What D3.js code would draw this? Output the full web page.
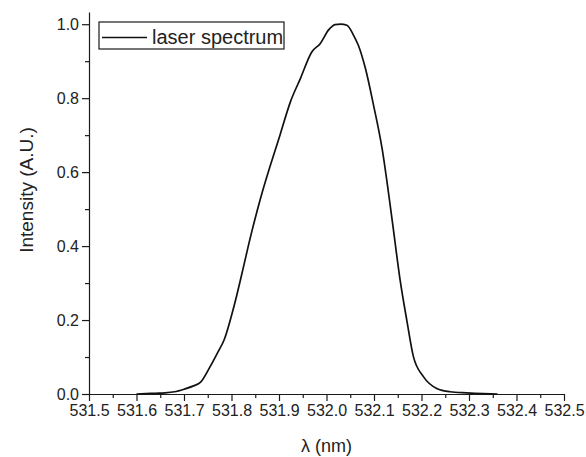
<!DOCTYPE html>
<html>
<head>
<meta charset="utf-8">
<script src="https://cdn.jsdelivr.net/npm/d3@7"></script>
<style>
  body { margin: 0; background: #fff; }
  svg { display: block; }
  .axis text { font-family: "Liberation Sans", Arial, sans-serif; font-size: 16px; fill: #222; }
  .axis path, .axis line { stroke: #1a1a1a; stroke-width: 1.2px; }
</style>
</head>
<body>
<div class="chart"></div>
<script>
// spectrum samples: wavelength (nm) and normalised intensity
const wavelength = [531.60, 531.62, 531.64, 531.66, 531.68, 531.70, 531.72, 531.735, 531.755, 531.77,
  531.785, 531.805, 531.822, 531.84, 531.86, 531.903, 531.924, 531.945, 531.969, 531.987,
  532.004, 532.018, 532.030, 532.043, 532.057, 532.067, 532.082, 532.099, 532.117, 532.134,
  532.141, 532.155, 532.169, 532.183, 532.204, 532.232, 532.26, 532.295, 532.33, 532.36];
const intensity = [0.000, 0.001, 0.002, 0.003, 0.006, 0.013, 0.022, 0.032, 0.074, 0.110,
  0.148, 0.236, 0.326, 0.425, 0.524, 0.704, 0.790, 0.853, 0.925, 0.948,
  0.984, 0.999, 1.000, 0.997, 0.970, 0.943, 0.880, 0.781, 0.664, 0.511,
  0.443, 0.308, 0.200, 0.101, 0.047, 0.015, 0.006, 0.003, 0.001, 0.000];

const xTicks = [531.5, 531.6, 531.7, 531.8, 531.9, 532.0, 532.1, 532.2, 532.3, 532.4, 532.5];
const yTicks = [0.0, 0.2, 0.4, 0.6, 0.8, 1.0];
const seriesName = "laser spectrum";

const width = 586, height = 457;
const plotLeft = 89, plotRight = 564, plotTop = 12, plotBottom = 394;

const svg = d3.select('.chart').append('svg')
    .attr('width', width)
    .attr('height', height);

const x = d3.scaleLinear().domain([531.5, 532.5]).range([plotLeft, plotRight]);
const y = d3.scaleLinear().domain([0, 1.033]).range([plotBottom, plotTop]);

// minor ticks first, then the labelled axes on top
const xMinor = d3.range(531.55, 532.5, 0.1);
const yMinor = [0.1, 0.3, 0.5, 0.7, 0.9];

svg.append('g')
    .attr('class', 'axis')
    .attr('transform', `translate(0,${plotBottom})`)
    .call(d3.axisBottom(x).tickValues(xMinor).tickSize(4).tickFormat(''))
    .call(g => g.select('.domain').remove());

svg.append('g')
    .attr('class', 'axis')
    .attr('transform', `translate(${plotLeft},0)`)
    .call(d3.axisLeft(y).tickValues(yMinor).tickSize(4).tickFormat(''))
    .call(g => g.select('.domain').remove());

svg.append('g')
    .attr('class', 'axis')
    .attr('transform', `translate(0,${plotBottom})`)
    .call(d3.axisBottom(x).tickValues(xTicks).tickSize(7).tickSizeOuter(0).tickPadding(4).tickFormat(d3.format('.1f')));

svg.append('g')
    .attr('class', 'axis')
    .attr('transform', `translate(${plotLeft},0)`)
    .call(d3.axisLeft(y).tickValues(yTicks).tickSize(7).tickSizeOuter(0).tickPadding(3).tickFormat(d3.format('.1f')));

// axis titles
svg.append('text')
    .attr('x', (plotLeft + plotRight) / 2)
    .attr('y', 452)
    .attr('text-anchor', 'middle')
    .style('font-family', '"Liberation Sans", Arial, sans-serif')
    .style('font-size', '18px')
    .style('fill', '#222')
    .text('λ (nm)');

svg.append('text')
    .attr('transform', 'translate(33,190) rotate(-90)')
    .attr('text-anchor', 'middle')
    .style('font-family', '"Liberation Sans", Arial, sans-serif')
    .style('font-size', '19px')
    .style('fill', '#222')
    .text('Intensity (A.U.)');

// spectrum curve
const pts = wavelength.map((w, i) => [w, intensity[i]]);
const line = d3.line()
    .x(d => x(d[0]))
    .y(d => y(d[1]))
    .curve(d3.curveMonotoneX);

svg.append('path')
    .datum(pts)
    .attr('d', line)
    .attr('fill', 'none')
    .attr('stroke', '#111')
    .attr('stroke-width', 1.7)
    .attr('stroke-linejoin', 'round');

// legend
const legend = svg.append('g').attr('transform', 'translate(99,22)');
legend.append('rect')
    .attr('width', 185)
    .attr('height', 27)
    .attr('fill', '#fff')
    .attr('stroke', '#1a1a1a')
    .attr('stroke-width', 1.2);
legend.append('line')
    .attr('x1', 3).attr('x2', 48)
    .attr('y1', 15.5).attr('y2', 15.5)
    .attr('stroke', '#111')
    .attr('stroke-width', 1.5);
legend.append('text')
    .attr('x', 53)
    .attr('y', 22)
    .style('font-family', '"Liberation Sans", Arial, sans-serif')
    .style('font-size', '20px')
    .style('fill', '#222')
    .text(seriesName);
</script>
</body>
</html>
